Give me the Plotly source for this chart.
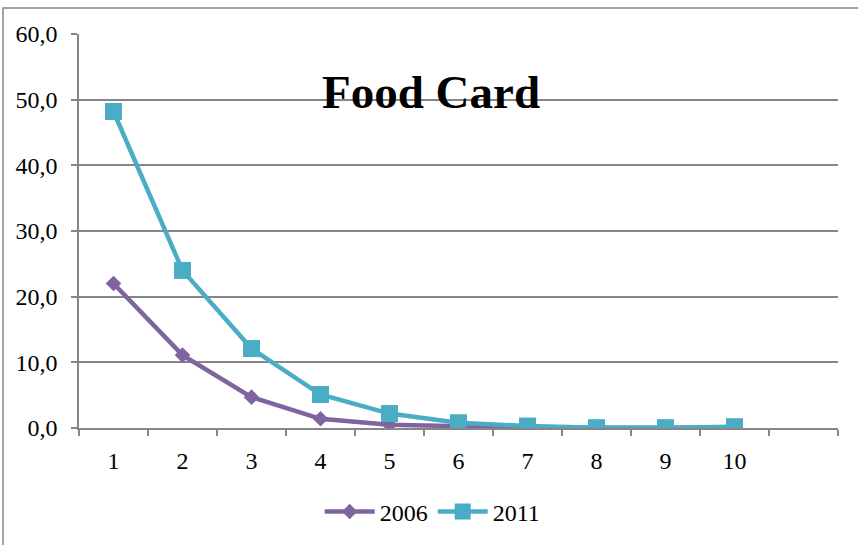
import plotly.graph_objects as go

# Categories 1..10 (an empty 11th slot keeps the right-hand gap on the axis)
categories = [1, 2, 3, 4, 5, 6, 7, 8, 9, 10]
values_2006 = [22.0, 11.1, 4.7, 1.4, 0.5, 0.2, 0.05, 0.02, 0.02, 0.05]
values_2011 = [48.2, 24.0, 12.1, 5.1, 2.2, 0.8, 0.3, 0.05, 0.05, 0.2]
y_ticks = [0, 10, 20, 30, 40, 50, 60]

PURPLE = "#8064A2"
CYAN = "#4BACC6"
GRID = "#868686"
FONT = "Liberation Serif"

fig = go.Figure()
fig.add_trace(go.Scatter(
    x=categories, y=values_2006, name="2006", mode="lines+markers",
    line=dict(color=PURPLE, width=4.5),
    marker=dict(symbol="diamond", size=12, color=PURPLE),
))
fig.add_trace(go.Scatter(
    x=categories, y=values_2011, name="2011", mode="lines+markers",
    line=dict(color=CYAN, width=4.5),
    marker=dict(symbol="square", size=17, color=CYAN),
))

fig.update_layout(
    width=858, height=545,
    margin=dict(l=79, r=20, t=34, b=116),
    paper_bgcolor="white", plot_bgcolor="white",
    separators=", ",
    font=dict(family=FONT, size=24, color="black"),
    showlegend=True,
    legend=dict(orientation="h", x=0.466, xanchor="center", y=-0.21, yanchor="middle",
                font=dict(family=FONT, size=24), itemwidth=50, tracegroupgap=0),
    annotations=[dict(
        text="<b>Food Card</b>", x=0.464, y=0.854, xref="paper", yref="paper",
        xanchor="center", yanchor="middle", showarrow=False,
        font=dict(family=FONT, size=47, color="black"),
    )],
    shapes=[dict(
        type="rect", xref="paper", yref="paper",
        x0=(3 - 79) / 759, x1=(880 - 79) / 759,
        y0=(429 - 580) / 395, y1=(429 - 8) / 395,
        line=dict(color=GRID, width=1.5), fillcolor="rgba(0,0,0,0)", layer="below",
    )],
)

fig.update_xaxes(
    range=[0.5, 11.5], tickvals=categories, ticktext=[str(c) for c in categories],
    showgrid=False, zeroline=False,
    showline=True, linecolor=GRID, linewidth=1.5,
    ticks="", ticklabelstandoff=10,
    minor=dict(tick0=0.5, dtick=1, ticks="outside", ticklen=6, tickcolor=GRID,
               tickwidth=1.5, showgrid=False),
)
fig.update_yaxes(
    range=[0, 60], tickvals=y_ticks, tickformat=".1f",
    showgrid=True, gridcolor=GRID, gridwidth=1.5, zeroline=False,
    showline=True, linecolor=GRID, linewidth=1.5,
    ticks="outside", ticklen=6, tickcolor=GRID, tickwidth=1.5,
    ticklabelstandoff=9,
)

fig.write_html("out.html")
